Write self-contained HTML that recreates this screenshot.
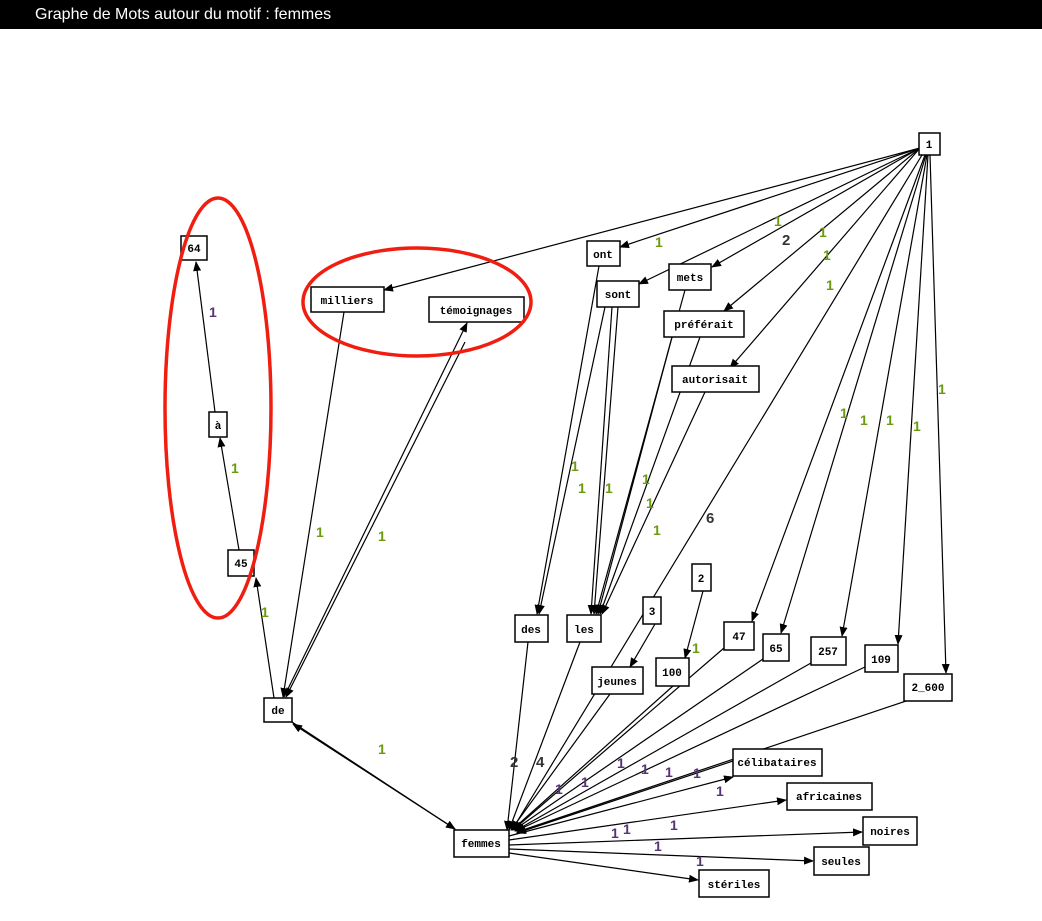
<!DOCTYPE html>
<html><head><meta charset="utf-8"><style>
html,body{margin:0;padding:0;background:#fff;width:1042px;height:921px;overflow:hidden}
.t{position:absolute;left:0;top:0;width:1042px;height:29px;background:#000;color:#fff;font:16px "Liberation Sans",sans-serif;line-height:30px}
.t span{position:absolute;left:35px;top:0}
svg{position:absolute;left:0;top:0}
.n{font:bold 11px "Liberation Mono",monospace;fill:#000}
.l{font:bold 14px "Liberation Sans",sans-serif}
</style></head><body>
<div class="t"><span>Graphe de Mots autour du motif : femmes</span></div>
<svg width="1042" height="921" viewBox="0 0 1042 921">
<defs><marker id="a" markerWidth="10" markerHeight="8" refX="9" refY="4" orient="auto" markerUnits="userSpaceOnUse"><path d="M0,0L10,4L0,8z" fill="#000"/></marker></defs>
<g stroke="#000" stroke-width="1.2" fill="none" marker-end="url(#a)">
<line x1="920" y1="148" x2="384" y2="290"/>
<line x1="920" y1="148" x2="620" y2="247"/>
<line x1="920" y1="148" x2="639" y2="284"/>
<line x1="920" y1="148" x2="712" y2="267"/>
<line x1="920" y1="148" x2="724" y2="311"/>
<line x1="920" y1="148" x2="730" y2="368"/>
<line x1="925" y1="155" x2="752" y2="621"/>
<line x1="926" y1="155" x2="781" y2="633"/>
<line x1="927" y1="155" x2="842" y2="636"/>
<line x1="928" y1="155" x2="898" y2="644"/>
<line x1="930" y1="155" x2="946" y2="673"/>
<line x1="922" y1="155" x2="512" y2="830"/>
<line x1="599" y1="266" x2="537" y2="614"/>
<line x1="605" y1="307" x2="539" y2="614"/>
<line x1="612" y1="307" x2="591" y2="614"/>
<line x1="618" y1="307" x2="594" y2="614"/>
<line x1="685" y1="290" x2="596" y2="614"/>
<line x1="672" y1="337" x2="598" y2="614"/>
<line x1="700" y1="337" x2="600" y2="614"/>
<line x1="705" y1="392" x2="602" y2="614"/>
<line x1="655" y1="624" x2="630" y2="667"/>
<line x1="703" y1="591" x2="685" y2="658"/>
<line x1="344" y1="312" x2="283" y2="697"/>
<line x1="465" y1="342" x2="286" y2="697"/>
<line x1="284" y1="697" x2="467" y2="323"/>
<line x1="274" y1="698" x2="256" y2="578"/>
<line x1="239" y1="550" x2="220" y2="438"/>
<line x1="215" y1="412" x2="196" y2="262"/>
<line x1="292" y1="722" x2="455" y2="829"/>
<line x1="455" y1="829" x2="293" y2="724"/>
<line x1="528" y1="642" x2="507" y2="830"/>
<line x1="580" y1="642" x2="509" y2="830"/>
<line x1="610" y1="694" x2="511" y2="830"/>
<line x1="673" y1="686" x2="512" y2="830"/>
<line x1="724" y1="648" x2="513" y2="830"/>
<line x1="763" y1="659" x2="514" y2="830"/>
<line x1="811" y1="663" x2="515" y2="831"/>
<line x1="865" y1="667" x2="516" y2="831"/>
<line x1="918" y1="697" x2="517" y2="832"/>
<line x1="733" y1="761" x2="517" y2="833"/>
<line x1="509" y1="836" x2="733" y2="777"/>
<line x1="509" y1="840" x2="786" y2="800"/>
<line x1="509" y1="845" x2="862" y2="832"/>
<line x1="509" y1="849" x2="813" y2="861"/>
<line x1="509" y1="853" x2="698" y2="880"/>
</g>
<g fill="#fff" stroke="#000" stroke-width="1.5">
<rect x="919" y="133" width="21" height="22"/><rect x="587" y="241" width="33" height="25"/><rect x="597" y="281" width="42" height="26"/><rect x="669" y="264" width="42" height="26"/><rect x="664" y="311" width="80" height="26"/><rect x="672" y="366" width="87" height="26"/><rect x="311" y="287" width="73" height="25"/><rect x="429" y="297" width="95" height="25"/><rect x="181" y="236" width="26" height="24"/><rect x="209" y="412" width="18" height="25"/><rect x="228" y="550" width="26" height="26"/><rect x="264" y="698" width="28" height="24"/><rect x="515" y="615" width="33" height="27"/><rect x="567" y="615" width="34" height="27"/><rect x="643" y="597" width="18" height="27"/><rect x="692" y="564" width="19" height="27"/><rect x="592" y="667" width="51" height="27"/><rect x="656" y="658" width="33" height="28"/><rect x="724" y="622" width="30" height="28"/><rect x="763" y="634" width="26" height="27"/><rect x="811" y="637" width="35" height="28"/><rect x="865" y="645" width="33" height="27"/><rect x="904" y="674" width="48" height="27"/><rect x="733" y="749" width="89" height="27"/><rect x="787" y="783" width="85" height="27"/><rect x="863" y="817" width="54" height="28"/><rect x="814" y="847" width="55" height="28"/><rect x="699" y="870" width="70" height="27"/><rect x="454" y="830" width="55" height="27"/>
</g>
<g class="n" text-anchor="middle">
<text x="929" y="148">1</text><text x="603" y="258">ont</text><text x="618" y="298">sont</text><text x="690" y="281">mets</text><text x="704" y="328">préférait</text><text x="715" y="383">autorisait</text><text x="347" y="304">milliers</text><text x="476" y="314">témoignages</text><text x="194" y="252">64</text><text x="218" y="429">à</text><text x="241" y="567">45</text><text x="278" y="714">de</text><text x="531" y="633">des</text><text x="584" y="633">les</text><text x="652" y="615">3</text><text x="701" y="582">2</text><text x="617" y="685">jeunes</text><text x="672" y="676">100</text><text x="739" y="640">47</text><text x="776" y="652">65</text><text x="828" y="655">257</text><text x="881" y="663">109</text><text x="928" y="691">2_600</text><text x="777" y="766">célibataires</text><text x="829" y="800">africaines</text><text x="890" y="835">noires</text><text x="841" y="865">seules</text><text x="734" y="888">stériles</text><text x="481" y="847">femmes</text>
</g>
<g class="l" fill="#6a9a10">
<text x="655" y="247">1</text><text x="774" y="226">1</text><text x="819" y="237">1</text><text x="823" y="260">1</text><text x="826" y="290">1</text><text x="938" y="394">1</text><text x="840" y="418">1</text><text x="860" y="425">1</text><text x="886" y="425">1</text><text x="913" y="431">1</text><text x="571" y="471">1</text><text x="578" y="493">1</text><text x="605" y="493">1</text><text x="642" y="484">1</text><text x="646" y="508">1</text><text x="653" y="535">1</text><text x="316" y="537">1</text><text x="378" y="541">1</text><text x="231" y="473">1</text><text x="261" y="617">1</text><text x="378" y="754">1</text><text x="692" y="653">1</text>
</g>
<g class="l" fill="#333">
<text x="209" y="317" fill="#553377">1</text><text x="782" y="245" font-size="15">2</text><text x="706" y="523" font-size="15">6</text><text x="510" y="767" font-size="15">2</text><text x="536" y="767" font-size="15">4</text>
<text x="555" y="794" fill="#553377">1</text><text x="581" y="787" fill="#553377">1</text><text x="617" y="768" fill="#553377">1</text><text x="641" y="774" fill="#553377">1</text><text x="665" y="777" fill="#553377">1</text><text x="693" y="778" fill="#553377">1</text><text x="716" y="796" fill="#553377">1</text><text x="611" y="838" fill="#553377">1</text><text x="623" y="834" fill="#553377">1</text><text x="670" y="830" fill="#553377">1</text><text x="654" y="851" fill="#553377">1</text><text x="696" y="866" fill="#553377">1</text>
</g>
<g fill="none" stroke="#f01e10" stroke-width="3.5">
<ellipse cx="218" cy="408" rx="53" ry="210"/>
<ellipse cx="417" cy="302" rx="114" ry="54"/>
</g>
</svg>
</body></html>
